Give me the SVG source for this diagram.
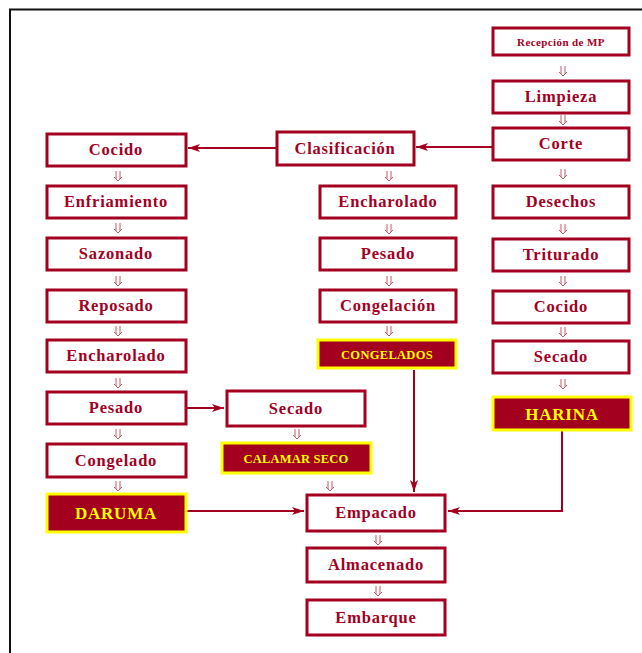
<svg xmlns="http://www.w3.org/2000/svg" width="642" height="653" viewBox="0 0 642 653">
<style>
.b rect{fill:#fff;stroke:#a3001f;stroke-width:3}
.b text{fill:#a3001f;font-family:"Liberation Serif",serif;font-weight:bold;font-size:16.5px;text-anchor:middle;letter-spacing:0.8px}
.h rect{fill:#a3001f;stroke:#ffff00;stroke-width:3}
.h text{fill:#ffff00;font-family:"Liberation Serif",serif;font-weight:bold;text-anchor:middle}
.c line,.c path.s{stroke:#a3001f;stroke-width:2;fill:none}
</style>
<defs>
<marker id="ah" viewBox="0 0 12 8" refX="12" refY="4" markerWidth="12" markerHeight="8" markerUnits="userSpaceOnUse" orient="auto">
<path d="M0,0 L12,4 L0,8 L3,4 Z" fill="#a3001f"/>
</marker>
<path id="da" d="M-2,-5 V3 M2,-5 V3 M-4,1 L0,5 L4,1"/>
</defs>
<rect x="0" y="0" width="642" height="653" fill="#fff"/>
<path d="M10,653 V9.5 H642" fill="none" stroke="#111" stroke-width="2"/>

<g class="c" id="connectors" stroke="#c45a6a" fill="none">
<use href="#da" x="563" y="71"/>
<use href="#da" x="563" y="120"/>
<use href="#da" x="563" y="174"/>
<use href="#da" x="563" y="229"/>
<use href="#da" x="563" y="281"/>
<use href="#da" x="563" y="332"/>
<use href="#da" x="563" y="384"/>
<use href="#da" x="389" y="176"/>
<use href="#da" x="389" y="229"/>
<use href="#da" x="389" y="281"/>
<use href="#da" x="389" y="331"/>
<use href="#da" x="118" y="176"/>
<use href="#da" x="118" y="228"/>
<use href="#da" x="118" y="281"/>
<use href="#da" x="118" y="331"/>
<use href="#da" x="118" y="383"/>
<use href="#da" x="118" y="434"/>
<use href="#da" x="118" y="486"/>
<use href="#da" x="297" y="434"/>
<use href="#da" x="330" y="486"/>
<use href="#da" x="378" y="540"/>
<use href="#da" x="378" y="591"/>
<line x1="493" y1="147" x2="416" y2="147" marker-end="url(#ah)"/>
<line x1="277" y1="148" x2="188" y2="148" marker-end="url(#ah)"/>
<line x1="185" y1="408" x2="224" y2="408" marker-end="url(#ah)"/>
<line x1="187" y1="511" x2="304" y2="511" marker-end="url(#ah)"/>
<line x1="414" y1="370" x2="414" y2="492" marker-end="url(#ah)"/>
<path class="s" d="M562,430 V511 H448" marker-end="url(#ah)"/>
</g>

<g class="b" id="n-recepcion"><rect x="493" y="28" width="136" height="27"/><text x="561" y="46" style="font-size:11px;letter-spacing:0.4px">Recepción de MP</text></g>
<g class="b" id="n-limpieza"><rect x="493" y="81" width="136" height="32"/><text x="561" y="102">Limpieza</text></g>
<g class="b" id="n-corte"><rect x="493" y="128" width="136" height="32"/><text x="561" y="149">Corte</text></g>
<g class="b" id="n-desechos"><rect x="493" y="186" width="136" height="32"/><text x="561" y="207">Desechos</text></g>
<g class="b" id="n-triturado"><rect x="493" y="239" width="136" height="32"/><text x="561" y="260">Triturado</text></g>
<g class="b" id="n-cocido2"><rect x="493" y="291" width="136" height="32"/><text x="561" y="312">Cocido</text></g>
<g class="b" id="n-secado2"><rect x="493" y="341" width="136" height="32"/><text x="561" y="362">Secado</text></g>
<g class="h" id="n-harina"><rect x="493" y="397" width="138" height="33"/><text x="562" y="420" style="font-size:17px;letter-spacing:0.8px">HARINA</text></g>

<g class="b" id="n-clasificacion"><rect x="277" y="132" width="137" height="33"/><text x="345" y="154">Clasificación</text></g>
<g class="b" id="n-encharolado1"><rect x="320" y="186" width="136" height="32"/><text x="388" y="207">Encharolado</text></g>
<g class="b" id="n-pesado1"><rect x="320" y="238" width="136" height="32"/><text x="388" y="259">Pesado</text></g>
<g class="b" id="n-congelacion"><rect x="320" y="290" width="136" height="32"/><text x="388" y="311">Congelación</text></g>
<g class="h" id="n-congelados"><rect x="318" y="340" width="138" height="28"/><text x="387" y="359" style="font-size:12.5px;letter-spacing:0.3px">CONGELADOS</text></g>

<g class="b" id="n-cocido"><rect x="47" y="134" width="139" height="32"/><text x="116" y="155">Cocido</text></g>
<g class="b" id="n-enfriamiento"><rect x="47" y="186" width="139" height="32"/><text x="116" y="207">Enfriamiento</text></g>
<g class="b" id="n-sazonado"><rect x="47" y="238" width="139" height="32"/><text x="116" y="259">Sazonado</text></g>
<g class="b" id="n-reposado"><rect x="47" y="290" width="139" height="32"/><text x="116" y="311">Reposado</text></g>
<g class="b" id="n-encharolado2"><rect x="47" y="340" width="139" height="32"/><text x="116" y="361">Encharolado</text></g>
<g class="b" id="n-pesado2"><rect x="47" y="392" width="139" height="32"/><text x="116" y="413">Pesado</text></g>
<g class="b" id="n-congelado"><rect x="47" y="444" width="139" height="33"/><text x="116" y="466">Congelado</text></g>
<g class="h" id="n-daruma"><rect x="47" y="494" width="139" height="38"/><text x="116" y="519" style="font-size:17px;letter-spacing:0.8px">DARUMA</text></g>

<g class="b" id="n-secado"><rect x="227" y="391" width="138" height="35"/><text x="296" y="414">Secado</text></g>
<g class="h" id="n-calamar"><rect x="222" y="443" width="149" height="30"/><text x="296" y="463" style="font-size:12.5px;letter-spacing:0.2px">CALAMAR SECO</text></g>

<g class="b" id="n-empacado"><rect x="307" y="495" width="138" height="36"/><text x="376" y="518">Empacado</text></g>
<g class="b" id="n-almacenado"><rect x="307" y="548" width="138" height="34"/><text x="376" y="570">Almacenado</text></g>
<g class="b" id="n-embarque"><rect x="307" y="600" width="138" height="35"/><text x="376" y="623">Embarque</text></g>
</svg>
